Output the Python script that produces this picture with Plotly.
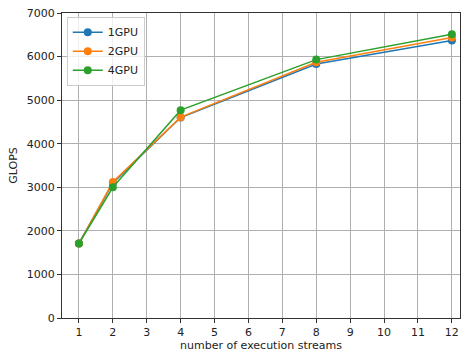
import plotly.graph_objects as go

streams = [1, 2, 4, 8, 12]
gpu1 = [1710, 3100, 4600, 5830, 6370]
gpu2 = [1710, 3120, 4610, 5870, 6440]
gpu4 = [1710, 3000, 4770, 5930, 6510]
names = ["1GPU", "2GPU", "4GPU"]
colors = ["#1f77b4", "#ff7f0e", "#2ca02c"]
x_ticks = list(range(1, 13))
y_ticks = list(range(0, 7001, 1000))

fig = go.Figure()
for name, ys, c in zip(names, [gpu1, gpu2, gpu4], colors):
    fig.add_trace(go.Scatter(x=streams, y=ys, mode="lines+markers", name=name,
                             line=dict(color=c, width=1.5),
                             marker=dict(color=c, size=8)))

font = dict(family="DejaVu Sans", size=11, color="#222222")
axis_common = dict(showline=True, linecolor="#333333", linewidth=1, mirror=True,
                   ticks="outside", ticklen=4, tickcolor="#333333",
                   showgrid=True, gridcolor="#b0b0b0", gridwidth=1, zeroline=False,
                   automargin=False, tickfont=font)
fig.update_xaxes(range=[0.5, 12.24], tickvals=x_ticks,
                 title=dict(text="number of execution streams", standoff=2, font=font),
                 **axis_common)
fig.update_yaxes(range=[0, 7000], tickvals=y_ticks,
                 title=dict(text="GLOPS", standoff=6, font=font),
                 **axis_common)
fig.update_layout(width=468, height=352, margin=dict(l=62, r=8, t=13, b=34),
                  paper_bgcolor="white", plot_bgcolor="white",
                  font=font,
                  legend=dict(x=0.012, y=0.988, xanchor="left", yanchor="top",
                              bgcolor="rgba(255,255,255,0.8)", bordercolor="#cccccc",
                              borderwidth=1, font=font, tracegroupgap=0),
                  showlegend=True)
fig.write_html("out.html")
